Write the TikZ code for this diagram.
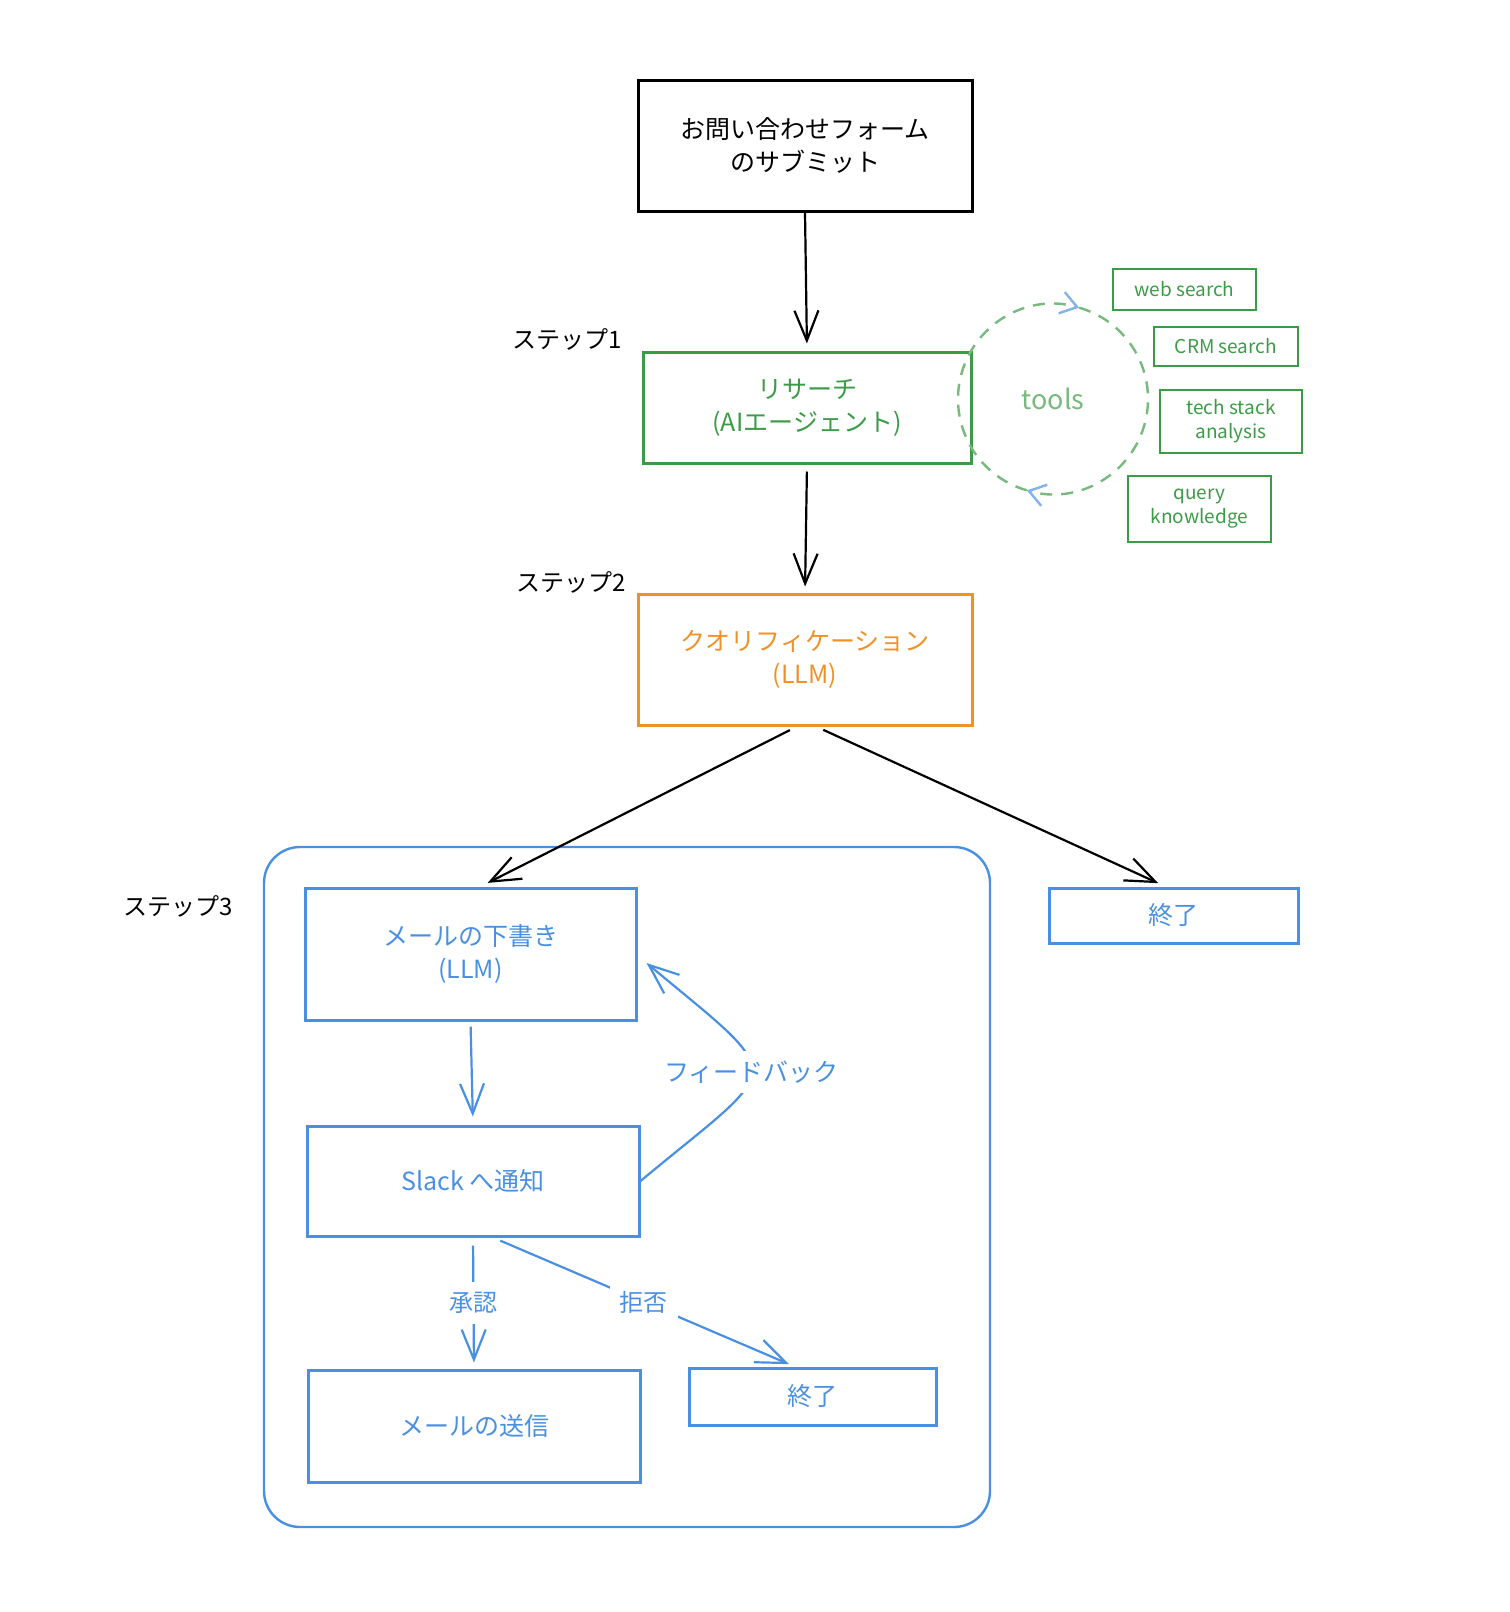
\documentclass[tikz,border=0pt]{standalone}
\usepackage{fontspec}
\setmainfont{Noto Sans CJK JP}
\usepackage{tikz}
\usetikzlibrary{arrows.meta}
\definecolor{greenStep}{RGB}{60,155,70}
\definecolor{greenLight}{RGB}{120,185,125}
\definecolor{orangeStep}{RGB}{240,145,40}
\definecolor{blueStep}{RGB}{74,144,226}
\definecolor{blueLight}{RGB}{130,180,235}

\begin{document}
\begin{tikzpicture}[x=1pt,y=-1pt,font=\fontsize{25}{33}\selectfont,
  box/.style={rectangle,draw,line width=3pt,align=center,inner sep=0pt},
  tool/.style={rectangle,draw=greenStep,line width=2.6pt,align=center,text=greenStep,
               inner sep=0pt,font=\fontsize{19}{24}\selectfont},
  lbl/.style={font=\fontsize{24}{28}\selectfont},
  arr/.style={line width=2.2pt,-{Straight Barb[length=30pt,width=24pt]}},
  tag/.style={fill=white,inner sep=10pt,text=blueStep}]

  \useasboundingbox (0,0) rectangle (1510,1612);

  \node[box,minimum width=334pt,minimum height=131pt] (form) at (805,145.5)
    {お問い合わせフォーム\\のサブミット};

  \node[lbl] (step1) at (567,339) {ステップ1};
  \node[box,draw=greenStep,text=greenStep,minimum width=328pt,minimum height=111pt]
    (research) at (807,407.5) {リサーチ\\(AIエージェント)};

  \node[circle,minimum size=190pt,inner sep=0pt,outer sep=0pt,text=greenLight,
        font=\fontsize{27}{30}\selectfont] (tools) at (1053,399) {tools};
  \draw[greenLight,line width=2.4pt,dash pattern=on 12pt off 9pt,
        -{Straight Barb[length=16pt,width=22pt,color=blueLight]}]
    (tools.254) arc[start angle=106,end angle=286,radius=95];
  \draw[greenLight,line width=2.4pt,dash pattern=on 12pt off 9pt,
        -{Straight Barb[length=16pt,width=22pt,color=blueLight]}]
    (tools.74) arc[start angle=-74,end angle=106,radius=95];

  \node[tool,minimum width=143pt,minimum height=41pt] (web)   at (1184.5,289.5) {web search};
  \node[tool,minimum width=144pt,minimum height=39pt] (crm)   at (1226,346.5) {CRM search};
  \node[tool,minimum width=142pt,minimum height=63pt] (tech)  at (1231,421.5) {tech stack\\analysis};
  \node[tool,minimum width=143pt,minimum height=66pt] (query) at (1199.5,509) {query\\knowledge};

  \node[lbl] (step2) at (571,582) {ステップ2};
  \node[box,draw=orangeStep,text=orangeStep,minimum width=334pt,minimum height=131pt]
    (qual) at (805,659.5) {クオリフィケーション\\(LLM)};

  \node[draw=blueStep,line width=2.4pt,rounded corners=36pt,minimum width=726pt,
        minimum height=680pt] (stage) at (627,1187) {};
  \node[lbl] (step3) at (178,906) {ステップ3};

  \node[box,draw=blueStep,text=blueStep,minimum width=331pt,minimum height=132pt]
    (draft) at (470.5,954) {メールの下書き\\(LLM)};
  \node[box,draw=blueStep,text=blueStep,minimum width=249pt,minimum height=55pt]
    (end1) at (1173.5,915.5) {終了};
  \node[box,draw=blueStep,text=blueStep,minimum width=332pt,minimum height=110pt]
    (slack) at (473,1181) {Slack へ通知};
  \node[box,draw=blueStep,text=blueStep,minimum width=332pt,minimum height=112pt]
    (send) at (474,1426) {メールの送信};
  \node[box,draw=blueStep,text=blueStep,minimum width=247pt,minimum height=57pt]
    (end2) at (812.5,1396.5) {終了};

  % main flow
  \draw[arr,shorten >=7pt] (form.south) -- (research.north);
  \draw[arr,shorten <=7pt,shorten >=6pt] (research.south) -- (qual.north);
  \draw[arr,shorten <=8pt,shorten >=8pt] ([xshift=-8pt]qual.south) -- ([xshift=10pt]draft.north);
  \draw[arr,shorten <=8pt,shorten >=8pt] ([xshift=11pt]qual.south) -- ([xshift=-8pt]end1.north);

  % step 3
  \draw[arr,blueStep,shorten <=5pt,shorten >=8pt] (draft.south) -- (slack.north);
  \draw[arr,blueStep] (slack.east) .. controls +(144,-120) and +(144,120) ..
    ([xshift=9pt,yshift=-9pt]draft.east) node[pos=0.5,tag] {フィードバック};
  \draw[arr,blueStep,shorten <=8pt,shorten >=6pt] (slack.south) -- (send.north)
    node[midway,tag,font=\fontsize{24}{28}\selectfont] {承認};
  \draw[arr,blueStep,shorten <=8pt,shorten >=6pt] ([xshift=20pt]slack.south) -- ([xshift=-18pt]end2.north)
    node[midway,tag,font=\fontsize{24}{28}\selectfont] {拒否};
\end{tikzpicture}
\end{document}
